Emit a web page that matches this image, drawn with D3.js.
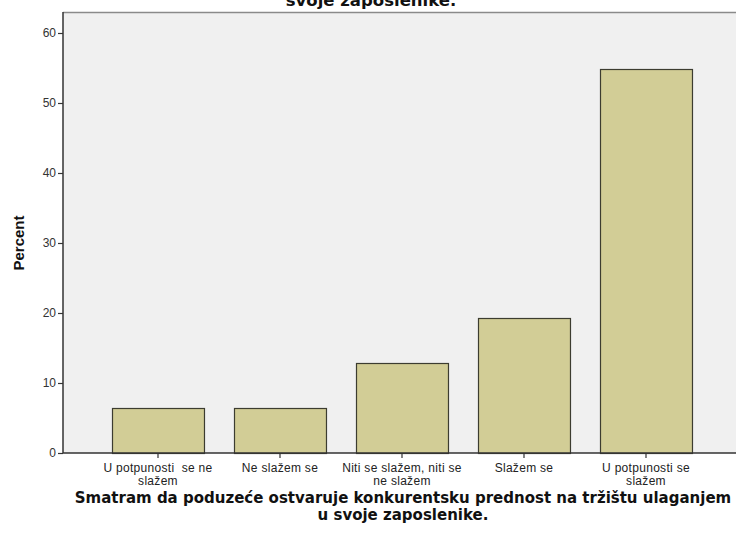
<!DOCTYPE html>
<html>
<head>
<meta charset="utf-8">
<script src="https://cdn.jsdelivr.net/npm/d3@7"></script>
<style>
  html, body { margin: 0; padding: 0; background: #ffffff; }
  svg { display: block; }
</style>
</head>
<body>
<svg id="chart" width="736" height="539"></svg>
<script>
const categories = [
  ["U potpunosti  se ne", "slažem"],
  ["Ne slažem se"],
  ["Niti se slažem, niti se", "ne slažem"],
  ["Slažem se"],
  ["U potpunosti se", "slažem"]
];
const percents = [6.45, 6.45, 12.9, 19.35, 54.84];
const yTicks = [0, 10, 20, 30, 40, 50, 60];
const yLabel = "Percent";
const xTitle = ["Smatram da poduzeće ostvaruje konkurentsku prednost na tržištu ulaganjem", "u svoje zaposlenike."];
const topTitleTail = "svoje zaposlenike.";

(function () {
const svg = d3.select("#chart");
const pLeft = 63, pTop = 12, pRight = 736, pBottom = 453;

svg.append("rect").attr("x", pLeft).attr("y", pTop).attr("width", pRight - pLeft).attr("height", pBottom - pTop)
  .attr("fill", "#f0f0f0");
svg.append("line").attr("x1", pLeft).attr("x2", pRight).attr("y1", pTop + 0.5).attr("y2", pTop + 0.5)
  .attr("stroke", "#8a8a8a").attr("stroke-width", 1.5);

const x = d3.scaleBand().domain(d3.range(categories.length)).range([97, 707])
  .paddingInner(0.246).paddingOuter(0.123);
const y = d3.scaleLinear().domain([0, 60]).range([pBottom, 33]);

svg.append("g").selectAll("rect").data(percents).join("rect")
  .attr("x", (d, i) => Math.round(x(i)) + 0.5)
  .attr("y", d => Math.round(y(d)) + 0.5)
  .attr("width", x.bandwidth())
  .attr("height", d => pBottom - Math.round(y(d)))
  .attr("fill", "#d2cd96")
  .attr("stroke", "#3c3c30")
  .attr("stroke-width", 1.2);

// y axis
const yAxis = d3.axisLeft(y).tickValues(yTicks).tickSize(5).tickSizeOuter(0).tickPadding(2);
const gy = svg.append("g").attr("transform", `translate(${pLeft},0)`).call(yAxis);
gy.select(".domain").attr("stroke", "#333").attr("stroke-width", 1.5).attr("d", `M0,${pTop}V${pBottom}`);
gy.selectAll(".tick line").attr("stroke", "#333").attr("stroke-width", 1.2);
gy.selectAll(".tick text").attr("font-family", "Liberation Sans, Arial, sans-serif")
  .attr("font-size", 12).attr("fill", "#333");

// x axis
const xAxis = d3.axisBottom(x).tickSize(5).tickSizeOuter(0).tickFormat(() => "");
const gx = svg.append("g").attr("transform", `translate(0,${pBottom})`).call(xAxis);
gx.select(".domain").attr("stroke", "#333").attr("stroke-width", 1.5).attr("d", `M${pLeft},0H${pRight}`);
gx.selectAll(".tick line").attr("stroke", "#333").attr("stroke-width", 1.2);

const labels = svg.append("g").attr("font-family", "Liberation Sans, Arial, sans-serif")
  .attr("font-size", 12).attr("letter-spacing", 0.3).attr("fill", "#222").attr("text-anchor", "middle");
categories.forEach((lines, i) => {
  const cx = x(i) + x.bandwidth() / 2;
  lines.forEach((t, j) => {
    labels.append("text").attr("x", cx).attr("y", 472 + j * 12.5).attr("xml:space", "preserve").text(t);
  });
});

// y label
svg.append("text").attr("transform", "translate(24,243) rotate(-90)")
  .attr("text-anchor", "middle").attr("font-family", "Liberation Sans, Arial, sans-serif")
  .attr("font-weight", "bold").attr("font-size", 15).attr("fill", "#111").text(yLabel);

// x title
const xt = svg.append("g").attr("font-family", "DejaVu Sans, Verdana, sans-serif")
  .attr("font-weight", "bold").attr("font-size", 15).attr("fill", "#111").attr("text-anchor", "middle");
xTitle.forEach((t, j) => {
  xt.append("text").attr("x", 403).attr("y", 503 + j * 16.5).text(t);
});

// clipped top title (second line of the chart title; first line lies above the picture)
svg.append("text").attr("x", 371).attr("y", 6).attr("text-anchor", "middle")
  .attr("font-family", "DejaVu Sans, Verdana, sans-serif").attr("font-weight", "bold")
  .attr("font-size", 16.5).attr("fill", "#111").text(topTitleTail);
})();
</script>
</body>
</html>
